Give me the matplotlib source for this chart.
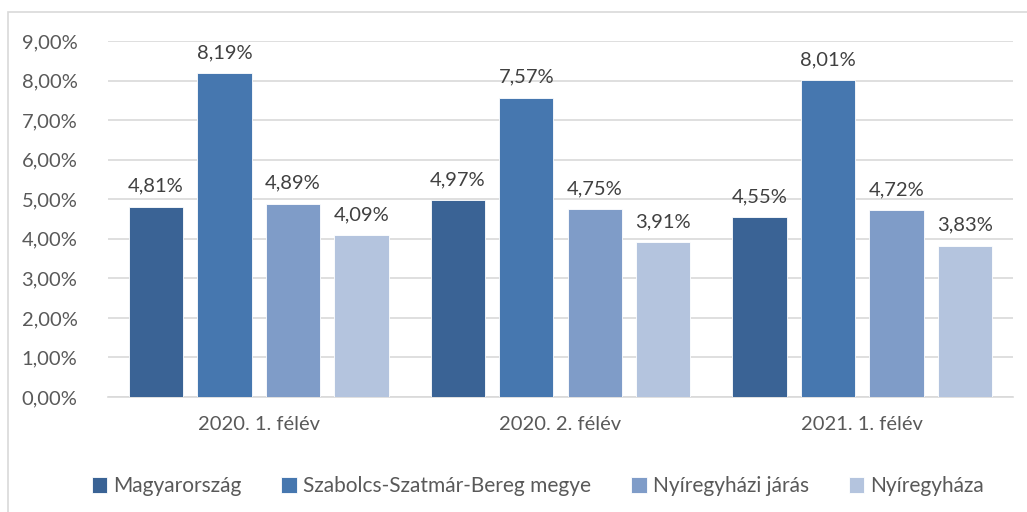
import matplotlib.pyplot as plt
import numpy as np
from matplotlib.patches import Rectangle

plt.rcParams['font.family'] = ['Lato', 'DejaVu Sans']

periods = ['2020. 1. félév', '2020. 2. félév', '2021. 1. félév']
series = ['Magyarország', 'Szabolcs-Szatmár-Bereg megye', 'Nyíregyházi járás', 'Nyíregyháza']
values = {
    'Magyarország': [4.81, 4.97, 4.55],
    'Szabolcs-Szatmár-Bereg megye': [8.19, 7.57, 8.01],
    'Nyíregyházi járás': [4.89, 4.75, 4.72],
    'Nyíregyháza': [4.09, 3.91, 3.83],
}
colors = ['#3A6395', '#4677AF', '#7F9CC8', '#B4C4DE']
yticks = np.arange(0, 10, 1)

def pct(v):
    return ('%.2f%%' % v).replace('.', ',')

fig = plt.figure(figsize=(10.27, 5.12), dpi=100)
# chart border
fig.patches.append(Rectangle((8 / 1027, -0.01), 1.02, 1 - 12 / 512 + 0.01, transform=fig.transFigure,
                             fill=False, edgecolor='#D9D9D9', linewidth=1.2))
ax = fig.add_axes([108 / 1027, 1 - 397 / 512, (1013 - 108) / 1027, (397 - 41) / 512])

x = np.arange(len(periods))
step = 0.227
width = 0.18
for i, (name, c) in enumerate(zip(series, colors)):
    pos = x + (i - 1.5) * step
    vals = values[name]
    ax.bar(pos, vals, width, color=c, label=name, edgecolor='white', linewidth=0.6, zorder=3)
    for p, v in zip(pos, vals):
        ax.text(p, v + 0.3, pct(v), ha='center', va='bottom', fontsize=14.5, color='#404040')

ax.set_xlim(-0.5, 2.5)
ax.set_ylim(0, 9)
ax.set_yticks(yticks)
ax.set_yticklabels([pct(v) for v in yticks])
ax.set_xticks(x)
ax.set_xticklabels(periods)
ax.tick_params(axis='both', length=0, labelsize=14.5, labelcolor='#595959')
ax.tick_params(axis='x', pad=14)
ax.tick_params(axis='y', pad=22)
ax.grid(axis='y', color='#D9D9D9', linewidth=1.2, zorder=0)
for s in ['top', 'right', 'left']:
    ax.spines[s].set_visible(False)
ax.spines['bottom'].set_color('#D9D9D9')
ax.spines['bottom'].set_linewidth(1.2)

ax.legend(loc='upper center', bbox_to_anchor=(0.475, -0.17), ncol=4, frameon=False,
          fontsize=15, labelcolor='#595959', handlelength=0.75, handleheight=0.75,
          handletextpad=0.3, columnspacing=1.9)

plt.savefig('out.png', dpi=100)
